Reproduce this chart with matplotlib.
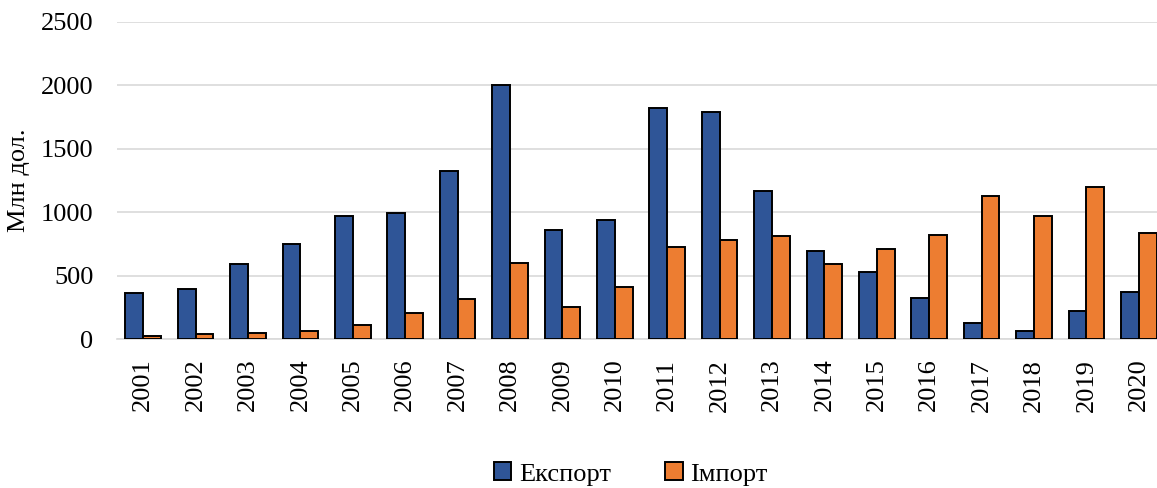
import matplotlib
matplotlib.use("Agg")
import matplotlib.pyplot as plt
import numpy as np

years = [str(y) for y in range(2001, 2021)]
export = [362, 399, 590, 748, 971, 997, 1325, 2000, 858, 939,
          1821, 1793, 1171, 695, 530, 325, 128, 68, 220, 376]
imports = [25, 45, 52, 68, 113, 205, 320, 601, 257, 415,
           727, 779, 816, 590, 709, 821, 1126, 974, 1197, 840]

plt.rcParams['font.family'] = ['Liberation Serif', 'DejaVu Serif']

fig = plt.figure(figsize=(11.57, 4.88), dpi=100)
ax_left = 117 / 1157
ax_right = 1165 / 1157
ax_bottom = 1 - 339.3 / 488
ax_top = 1 - 21.7 / 488
ax = fig.add_axes([ax_left, ax_bottom, ax_right - ax_left, ax_top - ax_bottom])

x = np.arange(len(years))
w = 0.338
ax.bar(x - w / 2, export, width=w, color='#2F5597', edgecolor='black',
       linewidth=1.4, label='Експорт', zorder=3)
ax.bar(x + w / 2, imports, width=w, color='#ED7D31', edgecolor='black',
       linewidth=1.4, label='Імпорт', zorder=3)

ax.set_xlim(-0.5, len(years) - 0.5)
ax.set_ylim(0, 2500)
ax.set_yticks(range(0, 2501, 500))
ax.set_xticks(x)
ax.set_xticklabels(years, rotation=90, fontsize=19)
ax.tick_params(axis='y', labelsize=19, length=0, pad=17)
ax.tick_params(axis='x', length=0, pad=14)
ax.yaxis.grid(True, color='#D9D9D9', linewidth=1.2, zorder=0)
ax.set_axisbelow(True)
for s in ['top', 'right', 'left']:
    ax.spines[s].set_visible(False)
ax.spines['bottom'].set_color('#D9D9D9')
ax.spines['bottom'].set_linewidth(1.2)
ax.set_ylabel('Млн дол.', fontsize=19)
ax.yaxis.set_label_coords(-0.083, 0.5)

fig.legend(loc='center', bbox_to_anchor=(631 / 1157, 1 - 474 / 488), ncol=2,
           frameon=False, fontsize=19, handlelength=0.65, handleheight=0.65,
           columnspacing=2.05, handletextpad=0.3)

fig.savefig('out.png', dpi=100)
